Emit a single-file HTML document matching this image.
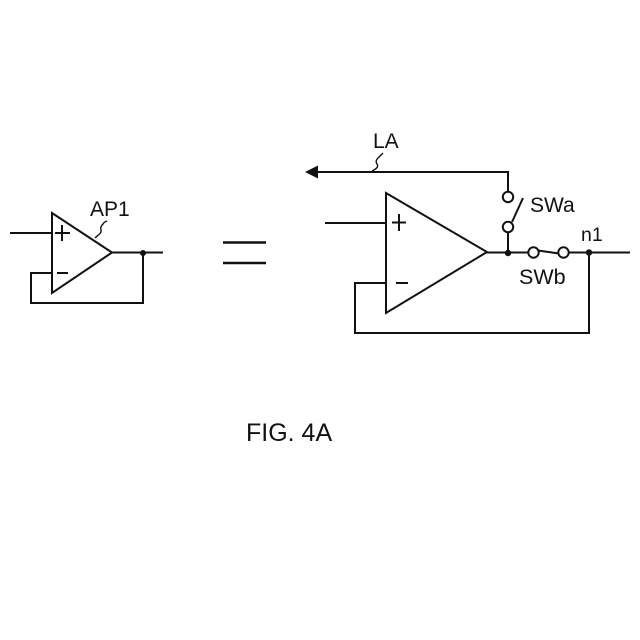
<!DOCTYPE html>
<html>
<head>
<meta charset="utf-8">
<style>
html,body{margin:0;padding:0;background:#fff;width:640px;height:640px;overflow:hidden}
svg{display:block}
text{font-family:"Liberation Sans",sans-serif;fill:#111}
</style>
</head>
<body>
<svg width="640" height="640" viewBox="0 0 640 640" fill="none" stroke="#111" stroke-width="2">
<!-- Left op amp -->
<path d="M52 213 L112 252.500 L52 293 Z"/>
<path d="M10 233 H52"/>
<path d="M112 252.500 H163"/>
<path d="M52 273 H31 V303 H143 V253"/>
<path d="M55 233 H70 M62 225 V241"/>
<path d="M57 273 H68"/>
<circle cx="143" cy="253" r="3" fill="#111" stroke="none"/>
<path d="M95 238 C98 235 102 233 101 230 C100 227 102 225 103 224 C104 222 105 222 107 221" stroke-width="1.400"/>
<!-- Equals -->
<path d="M223 242.500 H266 M223 263 H266" stroke-width="2.600"/>
<!-- Right op amp -->
<path d="M386 193 L487 252 L386 313 Z"/>
<path d="M325 223 H386"/>
<path d="M392 222.500 H406 M399 214 V231"/>
<path d="M396 283 H408"/>
<path d="M386 283 H355 V333 H589 V253"/>
<path d="M487 252.500 H528 M569 252.500 H630"/>
<path d="M538 250.500 L559 253.500"/>
<circle cx="533.500" cy="252.500" r="5.200" fill="#fff"/>
<circle cx="563.500" cy="252.500" r="5.200" fill="#fff"/>
<circle cx="508" cy="253" r="3.200" fill="#111" stroke="none"/>
<circle cx="589" cy="252.500" r="3.200" fill="#111" stroke="none"/>
<!-- SWa -->
<path d="M508 253 V232"/>
<circle cx="508" cy="227" r="5.200" fill="#fff"/>
<path d="M512 222 L523 198"/>
<circle cx="508" cy="197" r="5.200" fill="#fff"/>
<path d="M508 192 V172 H316"/>
<path d="M305 172 L318 165.500 V178.500 Z" fill="#111" stroke="none"/>
<path d="M372 171 C376 169 379 167 377 164 C375 161 377 159 379 157 C381 155 382 154 383 153" stroke-width="1.400"/>
<g stroke="none" font-size="21">
<text x="90" y="216">AP1</text>
<text x="373" y="148">LA</text>
<text x="530" y="212">SWa</text>
<text x="519" y="284" font-size="21.500">SWb</text>
<text x="581" y="241" font-size="19.500">n1</text>
<text x="246" y="441" font-size="25">FIG. 4A</text>
</g>
</svg>
</body>
</html>
